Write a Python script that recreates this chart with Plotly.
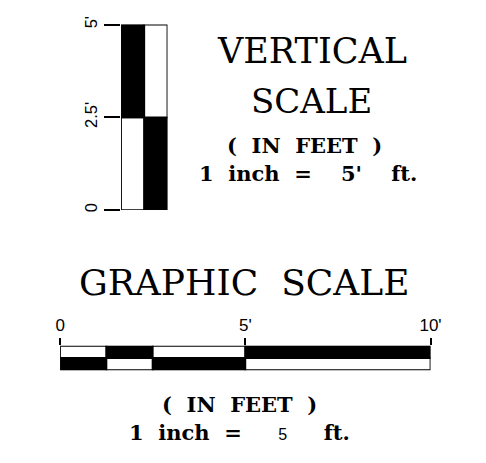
import plotly.graph_objects as go

# Horizontal graphic scale segments (feet)
h_top_start = [0, 1.25, 2.5, 5]
h_top_len = [1.25, 1.25, 2.5, 5]
h_top_color = ["white", "black", "white", "black"]
h_bot_start = [0, 1.25, 2.5, 5]
h_bot_len = [1.25, 1.25, 2.5, 5]
h_bot_color = ["black", "white", "black", "white"]
h_tickvals = [0, 5, 10]
h_ticktext = ["0", "5'", "10'"]

# Vertical scale segments (feet)
v_left_start = [0, 2.5]
v_left_len = [2.5, 2.5]
v_left_color = ["white", "black"]
v_right_start = [0, 2.5]
v_right_len = [2.5, 2.5]
v_right_color = ["black", "white"]
v_tickvals = [0, 2.5, 5]
v_ticktext = ["0", "2.5'", "5'"]

W, H = 486, 463
fig = go.Figure()

line = dict(color="black", width=1.8)

fig.add_trace(go.Bar(orientation="h", y=[1.5] * len(h_top_start), x=h_top_len, base=h_top_start,
                     width=1, marker=dict(color=h_top_color, line=line), xaxis="x", yaxis="y",
                     hoverinfo="skip"))
fig.add_trace(go.Bar(orientation="h", y=[0.5] * len(h_bot_start), x=h_bot_len, base=h_bot_start,
                     width=1, marker=dict(color=h_bot_color, line=line), xaxis="x", yaxis="y",
                     hoverinfo="skip"))
fig.add_trace(go.Bar(x=[0.5] * len(v_left_start), y=v_left_len, base=v_left_start,
                     width=1, marker=dict(color=v_left_color, line=line), xaxis="x2", yaxis="y2",
                     hoverinfo="skip"))
fig.add_trace(go.Bar(x=[1.5] * len(v_right_start), y=v_right_len, base=v_right_start,
                     width=1, marker=dict(color=v_right_color, line=line), xaxis="x2", yaxis="y2",
                     hoverinfo="skip"))

def px_x(p):
    return p / W

def px_y(p):
    return 1 - p / H

fig.update_layout(
    width=W, height=H, margin=dict(l=0, r=0, t=0, b=0),
    paper_bgcolor="white", plot_bgcolor="rgba(0,0,0,0)",
    showlegend=False, barmode="overlay",
    xaxis=dict(domain=[px_x(57), px_x(440)], range=[0, 10], side="top", anchor="y",
               tickvals=h_tickvals, ticktext=h_ticktext, ticks="outside", ticklen=7,
               tickcolor="black", tickwidth=1.8, showgrid=False, zeroline=False,
               showline=False, tickfont=dict(family="Liberation Sans", size=17, color="black")),
    yaxis=dict(domain=[px_y(370), px_y(345)], range=[0, 2], anchor="x", visible=False),
    xaxis2=dict(domain=[px_x(120), px_x(168)], range=[0, 2], anchor="y2", visible=False),
    yaxis2=dict(domain=[px_y(206), px_y(16)], range=[0, 5], anchor="x2",
                tickvals=v_tickvals, ticktext=v_ticktext, ticks="outside", ticklen=16,
                tickcolor="black", tickwidth=1.8, tickangle=-90, showgrid=False,
                zeroline=False, showline=False,
                tickfont=dict(family="Liberation Sans", size=16.5, color="black")),
)

serif = "DejaVu Serif"
ann = [
    dict(text="VERTICAL", x=317, y=43, size=35, bold=False),
    dict(text="SCALE", x=316.5, y=94, size=34, bold=False),
    dict(text="(  IN  FEET  )", x=310, y=139.5, size=21, bold=True),
    dict(text="1  inch  =    5'    ft.", x=313, y=168, size=21, bold=True),
    dict(text="GRAPHIC  SCALE", x=247.5, y=280, size=36, bold=False),
    dict(text="(  IN  FEET  )", x=242.5, y=405.5, size=21, bold=True),
]
for a in ann:
    t = "<b>" + a["text"] + "</b>" if a["bold"] else a["text"]
    fig.add_annotation(text=t, x=px_x(a["x"]), y=px_y(a["y"]), xref="paper", yref="paper",
                       showarrow=False, xanchor="center", yanchor="middle",
                       font=dict(family=serif, size=a["size"], color="black"))
fig.add_annotation(text="<b>1  inch  =     <span style='font-family:Liberation Sans;font-size:16px;font-weight:normal'>5</span>     ft.</b>",
                   x=px_x(242), y=px_y(433.5), xref="paper", yref="paper", showarrow=False,
                   xanchor="center", yanchor="middle",
                   font=dict(family=serif, size=21, color="black"))

fig.write_html("out.html", config={"displayModeBar": False},
               post_script="document.body.style.margin='0';document.body.style.overflow='hidden';")
